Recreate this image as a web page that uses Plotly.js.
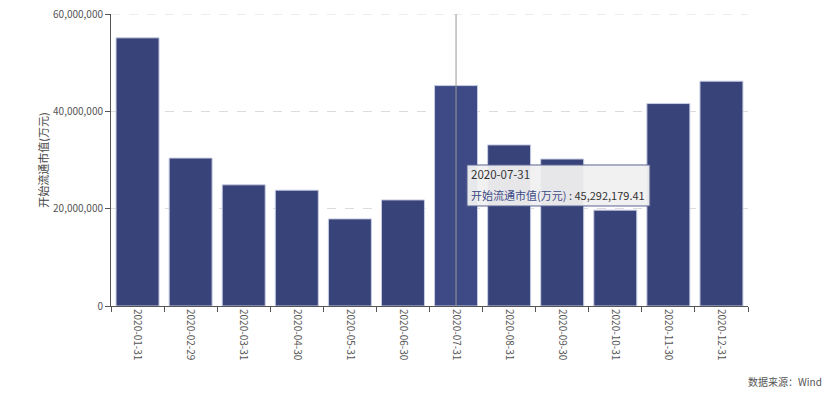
<!DOCTYPE html>
<html>
<head>
<meta charset="utf-8">
<script src="https://cdn.plot.ly/plotly-3.0.1.min.js"></script>
<style>html,body{margin:0;padding:0;background:#fff;}#chart{width:831px;height:396px;}</style>
</head>
<body>
<div id="chart"></div>
<script>
const categories = ["2020-01-31","2020-02-29","2020-03-31","2020-04-30","2020-05-31","2020-06-30","2020-07-31","2020-08-31","2020-09-30","2020-10-31","2020-11-30","2020-12-31"];
const values = [55100000, 30400000, 24900000, 23800000, 17900000, 21800000, 45292179.41, 33100000, 30200000, 19700000, 41600000, 46200000];
const seriesName = "开始流通市值(万元)";
const highlightIndex = 6;
const tickVals = [0, 20000000, 40000000, 60000000];
const tickText = ["0", "20,000,000", "40,000,000", "60,000,000"];

const font = "'Noto Sans CJK SC', 'Microsoft YaHei', sans-serif";
const colors = categories.map((c, i) => i === highlightIndex ? "#3d4a86" : "#384379");

const fmt = v => v.toLocaleString("en-US", {minimumFractionDigits: 2, maximumFractionDigits: 2});

const trace = {
  type: "bar",
  x: categories,
  y: values,
  marker: {color: colors, line: {color: "#c9cde3", width: 1}},
  hoverinfo: "none"
};

// tooltip box in paper coordinates
const tipL = 0.5589, tipR = 0.8460, tipT = 0.4829, tipB = 0.3425;

const layout = {
  width: 831, height: 396,
  margin: {l: 111, r: 83, t: 14, b: 90},
  paper_bgcolor: "#fff", plot_bgcolor: "#fff",
  bargap: 0.19,
  showlegend: false,
  font: {family: font, size: 11, color: "#555"},
  xaxis: {
    type: "category",
    tickangle: 90,
    tickfont: {size: 10, color: "#555"},
    showline: true, linecolor: "#555", linewidth: 1,
    ticks: "outside", ticklen: 5, tickcolor: "#555",
    tickson: "boundaries",
    showgrid: false, zeroline: false
  },
  yaxis: {
    range: [0, 60000000],
    tickvals: tickVals, ticktext: tickText,
    tickfont: {size: 10, color: "#555"},
    showline: true, linecolor: "#555", linewidth: 1,
    ticks: "outside", ticklen: 5, tickcolor: "#555",
    showgrid: true, gridcolor: "#dcdcdc", griddash: "dash", gridwidth: 1,
    zeroline: false,
    title: {text: seriesName, font: {size: 11, color: "#444"}, standoff: 2}
  },
  shapes: [
    {
      type: "line", xref: "paper", yref: "y",
      x0: 0, x1: 1, y0: tickVals[tickVals.length - 1], y1: tickVals[tickVals.length - 1],
      line: {color: "#dcdcdc", width: 1, dash: "dash"}, layer: "below"
    },
    {
      type: "line", xref: "x", yref: "paper",
      x0: categories[highlightIndex], x1: categories[highlightIndex], y0: 0, y1: 1,
      line: {color: "#999", width: 1}
    },
    {
      type: "rect", xref: "paper", yref: "paper",
      x0: tipL, x1: tipR, y0: tipB, y1: tipT,
      fillcolor: "rgba(240,240,240,0.95)", line: {color: "#5a6494", width: 1}, layer: "above"
    }
  ],
  annotations: [
    {
      xref: "paper", yref: "paper", x: 1.12, y: -0.26,
      xanchor: "right", yanchor: "middle", showarrow: false,
      text: "数据来源：Wind", font: {size: 10, color: "#555"}
    },
    {
      xref: "paper", yref: "paper", x: tipL, y: 0.4521,
      xanchor: "left", yanchor: "middle", xshift: 2, showarrow: false,
      text: categories[highlightIndex],
      font: {size: 11.5, color: "#333", family: font}
    },
    {
      xref: "paper", yref: "paper", x: tipL, y: 0.3801,
      xanchor: "left", yanchor: "middle", xshift: 2, showarrow: false,
      text: "<span style='color:#3d4a86'>" + seriesName + "</span><span style='color:#333'> : " + fmt(values[highlightIndex]) + "</span>",
      font: {size: 11, color: "#333", family: font}
    }
  ]
};

Plotly.newPlot("chart", [trace], layout, {displayModeBar: false, staticPlot: true});
</script>
</body>
</html>
